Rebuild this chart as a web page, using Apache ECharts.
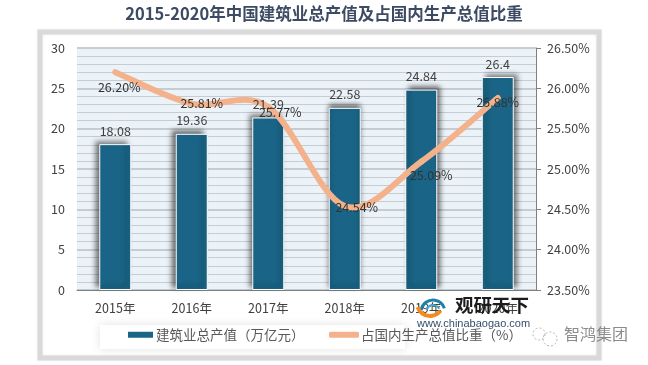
<!DOCTYPE html>
<html>
<head>
<meta charset="utf-8">
<script src="https://cdn.jsdelivr.net/npm/echarts@6/dist/echarts.min.js"></script>
<style>
  html, body { margin: 0; padding: 0; background: #fff; }
  #chart { width: 648px; height: 365px; }
</style>
</head>
<body>
<div id="chart"></div>
<script>
const years = ['2015年', '2016年', '2017年', '2018年', '2019年', '2020年'];
const outputValues = [18.08, 19.36, 21.39, 22.58, 24.84, 26.4];
const gdpShares = [26.20, 25.81, 25.77, 24.54, 25.09, 25.88];
const barName = '建筑业总产值（万亿元）';
const lineName = '占国内生产总值比重（%）';

const FONT = '"Noto Sans CJK SC", "Noto Sans", sans-serif';
const TEXT = '#404040';
const BAR_COLOR = '#1a6587';
const LINE_COLOR = '#f4b28c';

// shadow leans away from the middle of the chart, like the original
const shadowX = [-4, -4, -3, 0, 3, 4];
// where each percent label sits relative to its point
const shareLabelOffsets = [[4, 15], [10, 0], [12, 5], [12, 1], [10, 14], [0, 4]];

// Excel style smoothed line: catmull-rom tangents, these overshoot between points
// which the line series' smooth option clamps away
function renderSmoothSegment(params, api) {
  const i = params.dataIndex;
  if (i >= gdpShares.length - 1) return null;
  const at = k => {
    const n = Math.max(0, Math.min(gdpShares.length - 1, k));
    return api.coord([n, gdpShares[n]]);
  };
  const p0 = at(i - 1), p1 = at(i), p2 = at(i + 1), p3 = at(i + 2);
  return {
    type: 'bezierCurve',
    shape: {
      x1: p1[0], y1: p1[1],
      x2: p2[0], y2: p2[1],
      cpx1: p1[0] + (p2[0] - p0[0]) / 6,
      cpy1: p1[1] + (p2[1] - p0[1]) / 6,
      cpx2: p2[0] - (p3[0] - p1[0]) / 6,
      cpy2: p2[1] - (p3[1] - p1[1]) / 6
    },
    style: { fill: 'none', stroke: LINE_COLOR, lineWidth: 6, lineCap: 'round' }
  };
}

const chart = echarts.init(document.getElementById('chart'), null, { renderer: 'canvas' });

chart.setOption({
  animation: false,
  backgroundColor: '#fff',
  textStyle: { fontFamily: FONT },
  title: {
    text: '2015-2020年中国建筑业总产值及占国内生产总值比重',
    left: 'center',
    top: 0,
    textStyle: { fontFamily: FONT, fontSize: 16.5, fontWeight: 'bold', color: '#3d4a63' }
  },
  grid: {
    left: 77, right: 112, top: 48, bottom: 75,
    show: true, backgroundColor: '#ecf3f8', borderWidth: 0
  },
  legend: [
    {
      left: 128, top: 328, padding: 0, itemGap: 0, itemWidth: 25, itemHeight: 6,
      textStyle: { fontFamily: FONT, fontSize: 13.5, color: '#595959', padding: [0, 0, 0, -2] },
      data: [{ name: barName, icon: 'rect', itemStyle: { color: BAR_COLOR, borderWidth: 0, shadowBlur: 0 } }]
    },
    {
      left: 329, top: 328, padding: 0, itemGap: 0, itemWidth: 30, itemHeight: 6,
      textStyle: { fontFamily: FONT, fontSize: 13.5, color: '#595959', padding: [0, 0, 0, -3] },
      data: [{ name: lineName, icon: 'roundRect', itemStyle: { color: LINE_COLOR, opacity: 1 } }]
    }
  ],
  xAxis: {
    type: 'category',
    data: years,
    axisTick: { show: false },
    axisLine: { lineStyle: { color: '#7f7f7f', width: 1 } },
    axisLabel: { fontFamily: FONT, fontSize: 12.5, color: TEXT, margin: 12 }
  },
  yAxis: [
    {
      type: 'value', min: 0, max: 30, interval: 5,
      axisLine: { show: false },
      axisTick: { show: false },
      axisLabel: { fontFamily: FONT, fontSize: 12.5, color: TEXT, margin: 12 },
      splitLine: { show: true, lineStyle: { color: '#c6cdd2', width: 2 } },
      minorTick: { show: false, splitNumber: 5 },
      minorSplitLine: { show: true, lineStyle: { color: '#c6cdd2', width: 1 } }
    },
    {
      type: 'value', min: 23.5, max: 26.5, interval: 0.5,
      position: 'right',
      axisLine: { show: true, lineStyle: { color: '#7f7f7f' } },
      axisTick: { show: true, length: 5, lineStyle: { color: '#7f7f7f' } },
      axisLabel: {
        fontFamily: FONT, fontSize: 12.5, color: TEXT, margin: 11,
        formatter: v => v.toFixed(2) + '%'
      },
      splitLine: { show: false }
    }
  ],
  series: [
    {
      name: barName,
      type: 'bar',
      barWidth: 32,
      data: outputValues.map((v, i) => ({
        value: v,
        itemStyle: {
          color: BAR_COLOR,
          borderColor: '#fff',
          borderWidth: 1,
          shadowColor: 'rgba(0,0,0,0.55)',
          shadowBlur: 5,
          shadowOffsetX: shadowX[i],
          shadowOffsetY: -3
        }
      }))
    },
    {
      type: 'custom',
      yAxisIndex: 1,
      renderItem: renderSmoothSegment,
      data: gdpShares.map((v, i) => [i, v]),
      encode: { x: 0, y: 1 },
      silent: true,
      z: 5
    },
    // bar values, on their own series so that they stay above the curve
    {
      type: 'line',
      symbolSize: 0,
      lineStyle: { width: 0, opacity: 0 },
      data: outputValues,
      label: {
        show: true, position: 'top', distance: 7,
        fontFamily: FONT, fontSize: 12.5, color: TEXT,
        formatter: p => String(p.value)
      },
      z: 6
    },
    // carries the name for the legend and the percent labels, the curve itself is above
    {
      name: lineName,
      type: 'line',
      yAxisIndex: 1,
      symbol: 'circle',
      symbolSize: 0,
      itemStyle: { color: LINE_COLOR },
      lineStyle: { width: 0, opacity: 0 },
      data: gdpShares.map((v, i) => ({
        value: v,
        label: { offset: shareLabelOffsets[i] }
      })),
      label: {
        show: true, position: 'inside',
        fontFamily: FONT, fontSize: 12.5, color: '#333',
        formatter: p => p.value.toFixed(2) + '%'
      },
      z: 7
    }
  ],
  graphic: [
    // outer frame of the pasted picture
    {
      type: 'rect', z: -10, silent: true,
      shape: { x: 40, y: 32, width: 559, height: 326 },
      style: { fill: '#fff', stroke: '#d9d9d9', lineWidth: 5, shadowColor: 'rgba(0,0,0,0.08)', shadowBlur: 3 }
    },
    // white box under the legend
    {
      type: 'rect', z: 1, silent: true,
      shape: { x: 100, y: 325, width: 305, height: 24 },
      style: { fill: '#fff', shadowColor: 'rgba(0,0,0,0.12)', shadowBlur: 10 }
    },
    // site watermark
    { type: 'arc', z: 100, silent: true, shape: { cx: 433, cy: 312, r: 12, startAngle: Math.PI * 1.05, endAngle: Math.PI * 1.9 },
      style: { fill: 'none', stroke: '#1f7fa8', lineWidth: 3 } },
    { type: 'arc', z: 100, silent: true, shape: { cx: 433, cy: 312, r: 7, startAngle: Math.PI * 1.1, endAngle: Math.PI * 1.85 },
      style: { fill: 'none', stroke: '#3fa9c9', lineWidth: 2 } },
    { type: 'arc', z: 100, silent: true, shape: { cx: 430, cy: 303, r: 13, startAngle: Math.PI * 0.2, endAngle: Math.PI * 0.9 },
      style: { fill: 'none', stroke: '#f28c1e', lineWidth: 4 } },
    { type: 'text', z: 100, silent: true, style: { x: 455, y: 296, text: '观研天下', fill: '#1c1c1c', font: 'bold 18.5px ' + FONT } },
    { type: 'text', z: 100, silent: true, style: { x: 417, y: 318, text: 'www.chinabaogao.com', fill: '#33506b', font: '11px "Liberation Sans", sans-serif' } },
    // wechat mark
    { type: 'circle', z: 100, silent: true, shape: { cx: 539, cy: 334, r: 6 },
      style: { fill: 'none', stroke: '#b5b5b5', lineWidth: 1, lineDash: [2, 2] } },
    { type: 'circle', z: 100, silent: true, shape: { cx: 550, cy: 339, r: 7 },
      style: { fill: 'none', stroke: '#b5b5b5', lineWidth: 1, lineDash: [2, 2] } },
    { type: 'text', z: 100, silent: true, style: { x: 564, y: 326, text: '智鸿集团', fill: '#8c8c8c', font: '16px ' + FONT } }
  ]
});
</script>
</body>
</html>
